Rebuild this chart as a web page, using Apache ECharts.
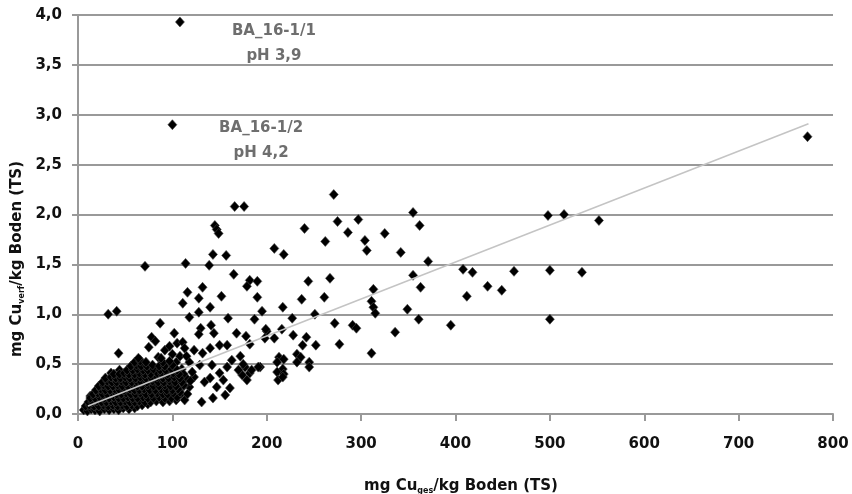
<!DOCTYPE html>
<html>
<head>
<meta charset="utf-8">
<script src="https://cdn.jsdelivr.net/npm/echarts@6/dist/echarts.min.js"></script>
<style>
  html, body { margin: 0; padding: 0; background: #fff; }
  #main { width: 852px; height: 494px; }
</style>
</head>
<body>
<div id="main"></div>
<script>
// Cu gesamt (mg/kg) vs. Cu verfuegbar (mg/kg)
const outliers = [
  [108, 3.93], [100, 2.90], [773, 2.78]
]

const scatterHigh = [
  [271, 2.20], [355, 2.02], [275, 1.93], [297, 1.95], [362, 1.89], [240, 1.86], [286, 1.82],
  [325, 1.81], [262, 1.73], [304, 1.74], [208, 1.66], [218, 1.60], [306, 1.64], [342, 1.62],
  [371, 1.53], [244, 1.33], [267, 1.36], [355, 1.39], [363, 1.27], [313, 1.25], [237, 1.15],
  [261, 1.17], [311, 1.13], [313, 1.07], [315, 1.01], [349, 1.05], [361, 0.95], [217, 1.07],
  [227, 0.96], [251, 1.00], [272, 0.91], [291, 0.89], [295, 0.86], [336, 0.82], [277, 0.70],
  [311, 0.61], [252, 0.69], [228, 0.79], [242, 0.77], [238, 0.69], [200, 0.83], [216, 0.85],
  [208, 0.76], [198, 0.76], [213, 0.57], [218, 0.55], [211, 0.52], [232, 0.60], [236, 0.57],
  [232, 0.52], [245, 0.52], [245, 0.47], [217, 0.45], [211, 0.42], [218, 0.40], [212, 0.34],
  [193, 0.47], [217, 0.37],
  [498, 1.99], [515, 2.00], [552, 1.94], [408, 1.45], [418, 1.42], [462, 1.43], [500, 1.44],
  [534, 1.42], [434, 1.28], [449, 1.24], [412, 1.18], [395, 0.89], [500, 0.95]
]

const scatterMid = [
  [166, 2.08], [176, 2.08], [145, 1.89], [147, 1.85], [149, 1.81], [143, 1.60], [157, 1.59],
  [114, 1.51], [139, 1.49], [165, 1.40], [182, 1.34], [190, 1.33], [179, 1.28], [132, 1.27],
  [116, 1.22], [128, 1.16], [152, 1.18], [190, 1.17], [111, 1.11], [140, 1.07], [195, 1.03],
  [128, 1.02], [118, 0.97], [159, 0.96], [187, 0.95], [102, 0.81], [130, 0.86], [141, 0.89],
  [128, 0.80], [144, 0.81], [168, 0.81], [178, 0.78], [199, 0.85], [182, 0.70], [105, 0.71],
  [111, 0.72], [113, 0.66], [123, 0.64], [132, 0.61], [140, 0.66], [150, 0.69], [158, 0.69],
  [163, 0.54], [172, 0.58], [177, 0.47], [191, 0.47], [131, 0.12], [143, 0.16], [156, 0.19],
  [161, 0.26], [147, 0.27], [150, 0.41], [140, 0.36], [134, 0.32], [118, 0.27], [113, 0.14],
  [123, 0.37], [182, 0.41], [174, 0.39], [179, 0.34], [154, 0.34], [158, 0.47], [142, 0.49],
  [129, 0.49], [118, 0.52], [175, 0.50], [184, 0.44], [170, 0.44],
  [32, 1.00], [41, 1.03], [87, 0.91], [43, 0.61], [78, 0.77], [82, 0.73], [75, 0.67],
  [92, 0.64], [85, 0.57], [66, 0.54], [61, 0.47], [71, 0.46], [44, 0.44], [35, 0.41],
  [13, 0.18], [8, 0.06], [71, 1.48],
  [100, 0.60], [104, 0.52], [108, 0.58], [97, 0.68], [110, 0.45], [115, 0.58],
  [100, 0.30], [103, 0.24], [106, 0.36], [109, 0.20], [112, 0.28], [115, 0.36], [108, 0.42],
  [116, 0.20], [119, 0.33], [104, 0.14], [112, 0.40], [121, 0.42]
]

const scatterCluster = [
  [6, 0.04], [10, 0.03], [14, 0.05], [18, 0.04], [23, 0.03], [28, 0.05], [33, 0.04], [38, 0.05],
  [43, 0.04], [48, 0.06], [54, 0.05], [60, 0.06],
  [8, 0.08], [12, 0.09], [17, 0.08], [22, 0.08], [27, 0.09], [32, 0.08], [37, 0.09], [42, 0.08],
  [47, 0.09], [52, 0.08], [57, 0.09], [63, 0.08], [68, 0.09], [74, 0.10],
  [11, 0.12], [15, 0.12], [20, 0.13], [25, 0.12], [30, 0.12], [35, 0.13], [40, 0.12], [45, 0.12],
  [50, 0.13], [55, 0.12], [60, 0.12], [65, 0.13], [71, 0.12], [77, 0.12], [83, 0.13], [90, 0.12],
  [97, 0.13],
  [13, 0.16], [18, 0.16], [23, 0.17], [28, 0.16], [33, 0.16], [38, 0.17], [43, 0.16], [48, 0.16],
  [53, 0.17], [58, 0.16], [63, 0.16], [69, 0.17], [74, 0.16], [80, 0.16], [86, 0.17], [92, 0.16],
  [99, 0.16], [105, 0.17],
  [16, 0.20], [21, 0.21], [26, 0.20], [31, 0.20], [36, 0.21], [41, 0.20], [46, 0.20], [51, 0.21],
  [56, 0.20], [61, 0.20], [66, 0.21], [72, 0.20], [78, 0.20], [84, 0.21], [90, 0.20], [95, 0.20],
  [101, 0.21], [108, 0.22],
  [19, 0.24], [24, 0.25], [29, 0.24], [34, 0.24], [39, 0.25], [44, 0.24], [49, 0.24], [55, 0.25],
  [60, 0.24], [65, 0.24], [70, 0.25], [76, 0.24], [82, 0.24], [88, 0.25], [94, 0.24], [100, 0.24],
  [106, 0.25],
  [22, 0.28], [27, 0.29], [32, 0.28], [37, 0.28], [42, 0.29], [47, 0.28], [53, 0.28], [58, 0.29],
  [63, 0.28], [68, 0.28], [74, 0.29], [80, 0.28], [86, 0.28], [92, 0.29], [98, 0.28], [104, 0.28],
  [112, 0.29],
  [26, 0.32], [31, 0.33], [36, 0.32], [41, 0.32], [46, 0.33], [51, 0.32], [57, 0.32], [62, 0.33],
  [67, 0.32], [73, 0.32], [79, 0.33], [85, 0.32], [91, 0.32], [97, 0.33], [103, 0.32], [110, 0.32],
  [29, 0.36], [35, 0.37], [40, 0.36], [45, 0.36], [50, 0.37], [55, 0.36], [61, 0.36], [66, 0.37],
  [72, 0.36], [78, 0.36], [84, 0.37], [90, 0.36], [96, 0.36], [102, 0.37], [108, 0.36],
  [38, 0.40], [44, 0.40], [49, 0.41], [54, 0.40], [60, 0.40], [65, 0.41], [71, 0.40], [77, 0.40],
  [84, 0.41], [89, 0.40], [95, 0.40], [101, 0.41], [107, 0.40],
  [52, 0.44], [58, 0.44], [63, 0.45], [69, 0.44], [74, 0.44], [80, 0.45], [87, 0.44], [93, 0.44],
  [99, 0.45], [105, 0.44],
  [56, 0.48], [62, 0.49], [67, 0.48], [73, 0.48], [79, 0.49], [86, 0.48], [92, 0.48], [100, 0.49],
  [60, 0.52], [66, 0.53], [72, 0.52], [90, 0.52], [97, 0.53],
  [64, 0.56], [88, 0.56]
]

const samples = outliers.concat(scatterHigh, scatterMid, scatterCluster)

// Regressionsgerade (hellgrau)
const trendLine = [[10.6, 0.08], [774, 2.91]]

// Beschriftungen der Ausreisser
const noteLabels = ['BA_16-1/1\npH 3,9', 'BA_16-1/2\npH 4,2']
const notePositions = [[207.6, 3.71], [194, 2.74]]

const xTicks = { min: 0, max: 800, interval: 100 }
const yTicks = { min: 0, max: 4, interval: 0.5 }

const FONT = 'DejaVu Sans'

const chart = echarts.init(document.getElementById('main'), null, { renderer: 'canvas' })

const titleRich = {
  a: { fontFamily: FONT, fontWeight: 'bold', fontSize: 15, lineHeight: 18, fill: '#111' },
  s: { fontFamily: FONT, fontWeight: 'bold', fontSize: 8, lineHeight: 10, verticalAlign: 'bottom', fill: '#111' }
}

const option = {
  backgroundColor: '#fff',
  animation: false,
  grid: { left: 78, right: 19, top: 15, bottom: 80 },
  xAxis: {
    type: 'value',
    min: xTicks.min,
    max: xTicks.max,
    interval: xTicks.interval,
    axisLine: { show: true, onZero: false, lineStyle: { color: '#999', width: 2 } },
    axisTick: { show: true, length: 7, lineStyle: { color: '#999', width: 2 } },
    axisLabel: {
      margin: 23,
      color: '#111',
      fontFamily: FONT,
      fontWeight: 'bold',
      fontSize: 15
    },
    splitLine: { show: false }
  },
  yAxis: {
    type: 'value',
    min: yTicks.min,
    max: yTicks.max,
    interval: yTicks.interval,
    axisLine: { show: true, lineStyle: { color: '#999', width: 2 } },
    axisTick: { show: true, length: 6, lineStyle: { color: '#999', width: 2 } },
    axisLabel: {
      margin: 16,
      color: '#111',
      fontFamily: FONT,
      fontWeight: 'bold',
      fontSize: 15,
      formatter: v => v.toFixed(1).replace('.', ',')
    },
    splitLine: { show: true, lineStyle: { color: '#999', width: 2 } }
  },
  graphic: [
    {
      type: 'text',
      x: 17,
      y: 259,
      rotation: Math.PI / 2,
      style: {
        text: '{a|mg Cu}{s|verf}{a|/kg Boden (TS)}',
        align: 'center',
        verticalAlign: 'middle',
        rich: titleRich
      }
    },
    {
      type: 'text',
      x: 461,
      y: 486,
      style: {
        text: '{a|mg Cu}{s|ges}{a|/kg Boden (TS)}',
        align: 'center',
        verticalAlign: 'middle',
        rich: titleRich
      }
    }
  ],
  series: [
    {
      type: 'scatter',
      data: samples,
      symbol: 'diamond',
      symbolSize: [9, 10],
      itemStyle: { color: '#000', opacity: 1, borderColor: '#444', borderWidth: 0.6 },
      z: 2
    },
    {
      type: 'line',
      data: trendLine,
      showSymbol: false,
      symbol: 'none',
      lineStyle: { color: '#c4c4c4', width: 1.5 },
      z: 3
    },
    {
      type: 'scatter',
      data: notePositions.map((p, i) => [p[0], p[1], noteLabels[i]]),
      symbolSize: 0,
      silent: true,
      label: {
        show: true,
        position: 'inside',
        formatter: p => p.data[2],
        color: '#4a4a4a',
        fontFamily: FONT,
        fontWeight: 'bold',
        fontSize: 15,
        lineHeight: 25
      },
      z: 4
    }
  ]
}

chart.setOption(option)
</script>
</body>
</html>
